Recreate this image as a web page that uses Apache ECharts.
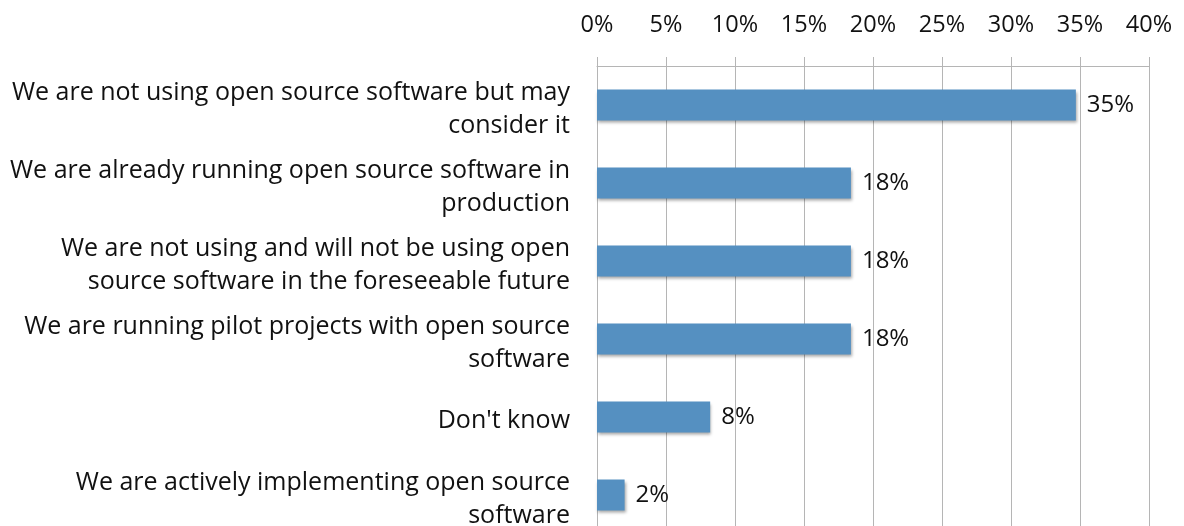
<!DOCTYPE html>
<html>
<head>
<meta charset="utf-8">
<script src="https://cdn.jsdelivr.net/npm/echarts@6/dist/echarts.min.js"></script>
<style>
  html, body { margin: 0; padding: 0; background: #ffffff; }
  #chart { width: 1184px; height: 526px; }
</style>
</head>
<body>
<div id="chart"></div>
<script>
const categories = [
  "We are not using open source software but may\nconsider it",
  "We are already running open source software in\nproduction",
  "We are not using and will not be using open\nsource software in the foreseeable future",
  "We are running pilot projects with open source\nsoftware",
  "Don't know",
  "We are actively implementing open source\nsoftware"
];
const values = [34.7, 18.4, 18.4, 18.4, 8.2, 2.0];
const axisMin = 0;
const axisMax = 40;
const axisStep = 5;

const FONT = "'Open Sans', Lato, sans-serif";
const GRID = '#b5b5b5';

const chart = echarts.init(document.getElementById('chart'), null, { renderer: 'canvas' });
chart.setOption({
  animation: false,
  backgroundColor: '#ffffff',
  grid: { left: 597, right: 35, top: 66, height: 468, containLabel: false, outerBoundsMode: 'none' },
  xAxis: {
    type: 'value',
    position: 'top',
    min: axisMin,
    max: axisMax,
    interval: axisStep,
    axisLine: { show: true, lineStyle: { color: GRID, width: 1 } },
    axisTick: { show: true, length: 9, lineStyle: { color: GRID, width: 1 } },
    splitLine: { show: true, lineStyle: { color: GRID, width: 1 } },
    axisLabel: {
      formatter: '{value}%',
      fontFamily: FONT,
      fontSize: 23.5,
      color: '#111111',
      margin: 29
    }
  },
  yAxis: {
    type: 'category',
    inverse: true,
    data: categories,
    axisLine: { show: false },
    axisTick: { show: false },
    splitLine: { show: false },
    axisLabel: {
      interval: 0,
      hideOverlap: false,
      color: '#111111',
      align: 'right',
      margin: 27,
      formatter: v => '{sp| }\n' + v.split('\n').map(l => '{t|' + l + '}').join('\n'),
      rich: {
        sp: { fontSize: 1, lineHeight: 8, fontFamily: FONT },
        t: { fontFamily: FONT, fontSize: 25, lineHeight: 33, color: '#111111', align: 'right' }
      }
    }
  },
  series: [{
    type: 'bar',
    data: values,
    barWidth: 31,
    itemStyle: {
      color: '#5590c1',
      shadowColor: 'rgba(0,0,0,0.35)',
      shadowBlur: 3,
      shadowOffsetX: 1,
      shadowOffsetY: 2
    },
    label: {
      show: true,
      position: 'right',
      distance: 11,
      fontFamily: FONT,
      fontSize: 24,
      color: '#111111',
      formatter: p => Math.round(p.value) + '%'
    }
  }]
});
</script>
</body>
</html>
